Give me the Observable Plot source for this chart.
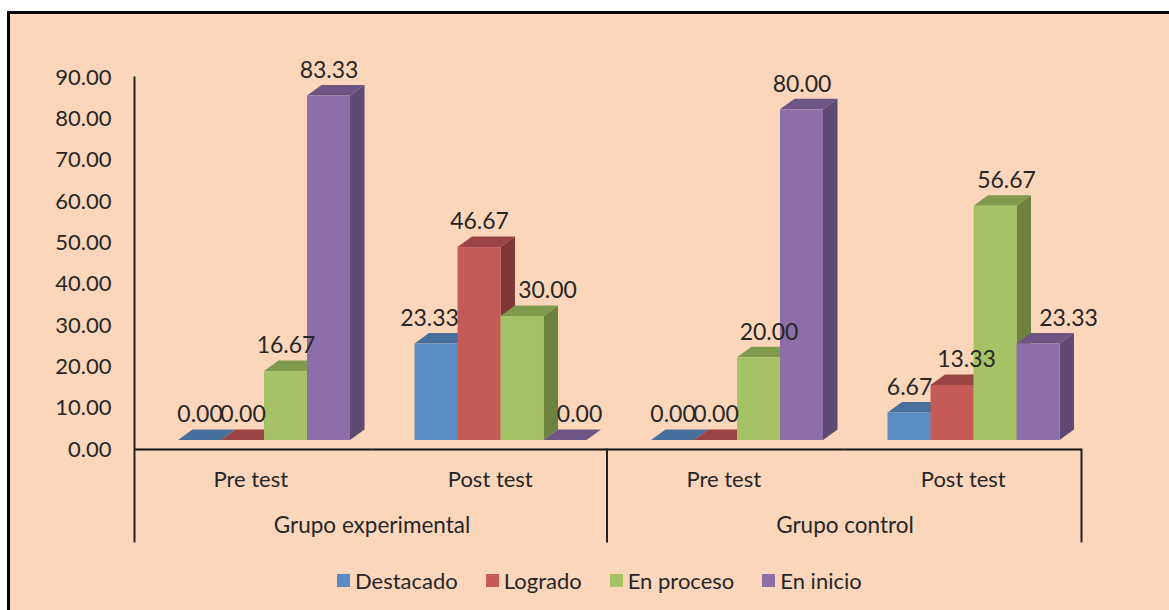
<!DOCTYPE html>
<html>
<head>
<meta charset="utf-8">
<script src="https://cdn.jsdelivr.net/npm/d3@7"></script>
<script src="https://cdn.jsdelivr.net/npm/@observablehq/plot@0.6"></script>
<style>
  html, body { margin: 0; padding: 0; background: #fff; overflow: hidden; width: 1169px; height: 610px; }
  #panel { position: absolute; left: 7px; top: 11px; width: 1200px; height: 640px; box-sizing: border-box;
           background: #FCD6BA; border: 3px solid #000; }
  #chart { position: absolute; left: 0; top: 0; width: 1169px; height: 610px; }
  #chart svg { display: block; }
  #legend { position: absolute; left: 337px; top: 564px; white-space: nowrap; color: #262626; }
  #legend span { margin-right: 28px !important; }
  #legend svg { margin-right: 5px !important; }
</style>
</head>
<body>
<div id="panel"></div>
<div id="chart"></div>
<div id="legend"></div>
<script>
const tests = ["Pre test", "Post test", "Pre test", "Post test"];
const groups = ["Grupo experimental", "Grupo experimental", "Grupo control", "Grupo control"];
const seriesNames = ["Destacado", "Logrado", "En proceso", "En inicio"];
const destacado = [0, 23.33, 0, 6.67];
const logrado = [0, 46.67, 0, 13.33];
const enProceso = [16.67, 30, 20, 56.67];
const enInicio = [83.33, 0, 80, 23.33];
const yTicks = [0, 10, 20, 30, 40, 50, 60, 70, 80, 90];
const colors = ["#5A8BC5", "#C65A57", "#A5C266", "#8C6EA8"];
const topColors = ["#476F9C", "#9A4543", "#7F9A4C", "#6D5585"];
const sideColors = ["#3C5F86", "#7E3836", "#6E8240", "#5E4A72"];

const facetKeys = tests.map((t, i) => `${groups[i]}|${t}`);
const valueLists = [destacado, logrado, enProceso, enInicio];
const rows = seriesNames.flatMap((s, si) =>
  facetKeys.map((k, fi) => ({facet: k, series: s, value: valueLists[si][fi]})));

// Pseudo-3D geometry (pixels)
const lift = -9, depthX = 14.5, depthY = -10.5;
const fontFamily = "Lato, sans-serif";
const step = (1169 - 135 - 88) / 4;

function depthFaces(index, scales, values) {
  const g = d3.create("svg:g");
  const bw = scales.x.bandwidth;
  const w = typeof bw === "function" ? bw() : bw;
  for (const i of index) {
    const si = seriesNames.indexOf(rows[i].series);
    const x0 = values.x[i], x1 = x0 + w;
    const yT = Math.min(values.y1[i], values.y2[i]) + lift;
    const yB = Math.max(values.y1[i], values.y2[i]) + lift;
    g.append("path").attr("fill", sideColors[si])
      .attr("d", `M${x1},${yT}L${x1 + depthX},${yT + depthY}L${x1 + depthX},${yB + depthY}L${x1},${yB}Z`);
    g.append("path").attr("fill", topColors[si])
      .attr("d", `M${x0},${yT}L${x0 + depthX},${yT + depthY}L${x1 + depthX},${yT + depthY}L${x1},${yT}Z`);
  }
  return g.node();
}

// Hand-moved data labels in the reference
const labelShift = (d) => {
  const i = facetKeys.indexOf(d.facet);
  if (i === 1 && d.series === "Destacado") return -7;
  if (i === 1 && d.series === "En inicio") return 14;
  if (i === 1 && d.series === "En proceso") return 25;
  if (i === 2 && d.series === "En proceso") return 10;
  if (i === 3 && d.series === "Logrado") return 14;
  if (i === 3 && d.series === "En proceso") return 11;
  if (i === 3 && d.series === "En inicio") return 30;
  return 0;
};
const labelMarks = Array.from(d3.group(rows, labelShift), ([dx, data]) =>
  Plot.text(data, {x: "series", y: "value", fx: "facet", text: (d) => d.value.toFixed(2), fontSize: 23,
                   dy: lift + depthY - 15, dx, fill: "#262626", lineAnchor: "middle"}));

const separator = (key, anchor, insetTop, dx) =>
  Plot.frame({fx: () => key, anchor, insetTop, insetBottom: -92, dx, stroke: "#222", strokeWidth: 2});

// Category labels under the axis, one per facet
const testLabel = (i, dx) => Plot.text([tests[i]], {fx: () => facetKeys[i], frameAnchor: "bottom", dy: 30, dx,
  text: (d) => d, lineAnchor: "middle", fill: "#262626", fontSize: 22});

const plot = Plot.plot({
  width: 1169,
  height: 550,
  marginLeft: 135,
  marginRight: 88,
  marginTop: 77,
  marginBottom: 101,
  style: {background: "transparent", fontFamily, fontSize: "22px", color: "#262626"},
  fx: {domain: facetKeys, padding: 0, round: false, label: null, axis: null},
  x: {domain: seriesNames, paddingInner: 0, paddingOuter: 0.75, align: 0.667, round: false, axis: null},
  y: {domain: [0, 90], axis: null},
  color: {domain: seriesNames, range: colors},
  marks: [
    Plot.barY(rows, {x: "series", y: "value", fx: "facet", fill: "series", render: depthFaces}),
    Plot.barY(rows, {x: "series", y: "value", fx: "facet", fill: "series", dy: lift}),
    Plot.axisY({ticks: yTicks, tickSize: 0, tickPadding: 24, tickFormat: (d) => d.toFixed(2), label: null,
                fill: "#262626", fontSize: 22}),
    testLabel(0, -3),
    testLabel(1, 0),
    testLabel(2, -3),
    testLabel(3, 0),
    Plot.ruleY([0], {stroke: "#111", strokeWidth: 2.2}),
    separator(facetKeys[0], "left", 0, -1),
    separator(facetKeys[2], "left", 372, -1.5),
    separator(facetKeys[3], "right", 372, 0),
    Plot.text([groups[0]], {fx: () => facetKeys[1], frameAnchor: "bottom", dx: -step / 2, dy: 76,
                            text: (d) => d, lineAnchor: "middle", fill: "#262626", fontSize: 22.5}),
    Plot.text([groups[2]], {fx: () => facetKeys[3], frameAnchor: "bottom", dx: -step / 2, dy: 76,
                            text: (d) => d, lineAnchor: "middle", fill: "#262626", fontSize: 22.5}),
    ...labelMarks
  ]
});
document.getElementById("chart").appendChild(plot);
document.getElementById("legend").appendChild(plot.legend("color", {swatchSize: 13, style: {font: "22px Lato, sans-serif"}}));
</script>
</body>
</html>
